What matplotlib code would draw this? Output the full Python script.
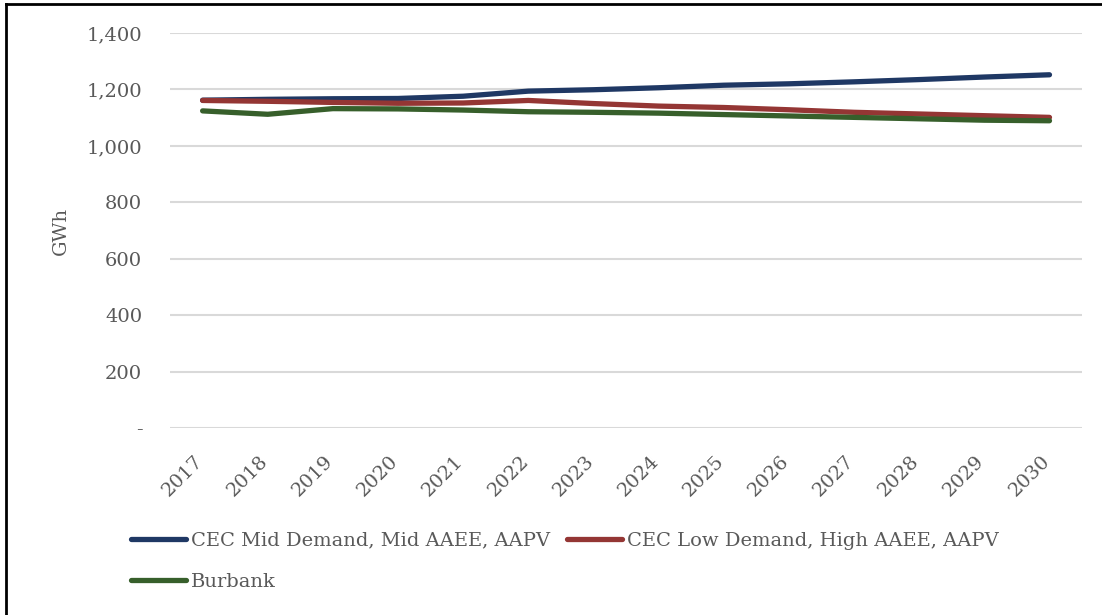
import numpy as np
import matplotlib.pyplot as plt
from matplotlib.lines import Line2D
from matplotlib.transforms import ScaledTranslation

years = [str(y) for y in range(2017, 2031)]
cec_mid = [1162, 1165, 1167, 1168, 1176, 1194, 1199, 1206, 1215, 1220, 1227, 1235, 1244, 1252]
cec_low = [1161, 1158, 1154, 1151, 1152, 1161, 1150, 1141, 1136, 1128, 1119, 1113, 1107, 1101]
burbank = [1124, 1112, 1132, 1131, 1127, 1121, 1119, 1116, 1111, 1106, 1101, 1096, 1091, 1089]
yticks = [0, 200, 400, 600, 800, 1000, 1200, 1400]
ytick_labels = ['-', '200', '400', '600', '800', '1,000', '1,200', '1,400']

plt.rcParams['font.family'] = ['DejaVu Serif']
grey = '#595959'

fig = plt.figure(figsize=(11.02, 6.15), dpi=100)
ax = fig.add_axes([0.1543, 0.3041, 0.8276, 0.6422])

x = np.arange(len(years))
l1, = ax.plot(x, cec_mid, color='#1F3864', lw=3.8, solid_capstyle='round', label='CEC Mid Demand, Mid AAEE, AAPV')
l2, = ax.plot(x, cec_low, color='#943634', lw=3.8, solid_capstyle='round', label='CEC Low Demand, High AAEE, AAPV')
l3, = ax.plot(x, burbank, color='#375F2B', lw=3.8, solid_capstyle='round', label='Burbank')

ax.set_xlim(-0.5, len(years) - 0.5)
ax.set_ylim(0, 1400)
ax.set_yticks(yticks)
ax.set_yticklabels(ytick_labels, fontsize=14, color=grey)
ax.set_xticks(x)
ax.set_xticklabels(years, fontsize=14, color=grey, rotation=45, ha='right', va='top', rotation_mode='anchor')
ax.tick_params(axis='both', length=0)
ax.tick_params(axis='y', pad=20)
ax.tick_params(axis='x', pad=14)
# nudge the slanted year labels left, like Excel places them
shift = ScaledTranslation(-9 / 100, -5 / 100, fig.dpi_scale_trans)
for lab in ax.get_xticklabels():
    lab.set_transform(lab.get_transform() + shift)
ax.grid(axis='y', color='#D9D9D9', lw=1.5)
ax.set_axisbelow(True)
for s in ax.spines.values():
    s.set_visible(False)
ax.set_ylabel('GWh', fontsize=14, color=grey, labelpad=12)

leg = fig.legend([l1, l3, l2], [l1.get_label(), l3.get_label(), l2.get_label()],
                 loc='upper left', bbox_to_anchor=(0.112, 0.148), ncol=2, frameon=False,
                 fontsize=14, handlelength=2.8, handletextpad=0.26, columnspacing=0.9,
                 labelspacing=1.2, borderaxespad=0)
for t in leg.get_texts():
    t.set_color(grey)

# frame of the original figure
fig.add_artist(Line2D([0.0055, 0.0055], [0, 0.993], color='black', lw=2, transform=fig.transFigure))
fig.add_artist(Line2D([0.0055, 1], [0.993, 0.993], color='black', lw=2, transform=fig.transFigure))

fig.savefig('out.png', dpi=100)
